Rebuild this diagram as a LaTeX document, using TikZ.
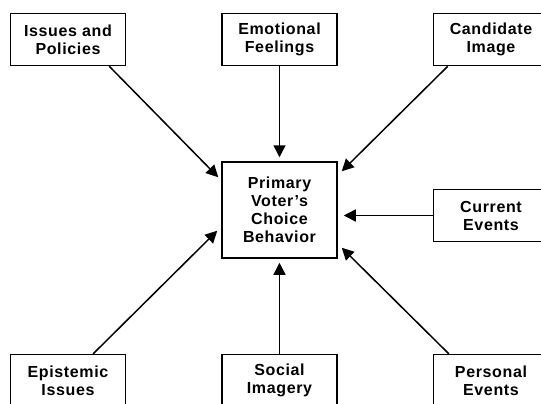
\documentclass[tikz,border=0pt]{standalone}
\usepackage{fontspec}
\setmainfont{Liberation Sans}[LetterSpace=4]
\usepackage{tikz}
\usetikzlibrary{arrows.meta,positioning}

\begin{document}
\begin{tikzpicture}[
  x=0.5pt, y=0.5pt,
  font=\fontsize{8}{9}\selectfont\bfseries,
  node distance=47.5pt,
  box/.style={rectangle, draw, line width=0.75pt, align=center,
              minimum width=57.5pt, minimum height=26pt, inner sep=1pt},
  arr/.style={-{Triangle[length=6pt,width=6pt]}, line width=0.75pt}
]
\clip (-279.5,210) rectangle (261.5,-193);
\node[box, minimum height=48pt] (prim) at (0,0) {Primary\\Voter's\\Choice\\Behavior};
\node[box, above=of prim] (emo) {Emotional\\Feelings};
\node[box, left=of emo] (iss) {Issues and\\Policies};
\node[box, right=of emo] (cand) {Candidate\\Image};
\node[box, right=of prim, yshift=-2.75pt] (curr) {Current\\Events};
\node[box, below=of prim] (soc) {Social\\Imagery};
\node[box, left=of soc] (epi) {Epistemic\\Issues};
\node[box, right=of soc] (pers) {Personal\\Events};
\draw[arr] ([xshift=-8.5pt]iss.south east) -- ([shift={(-1.5pt,-8pt)}]prim.north west);
\draw[arr] (emo) -- ([yshift=2pt]prim.north);
\draw[arr] ([xshift=7.5pt]cand.south west) -- ([shift={(2pt,-5pt)}]prim.north east);
\draw[arr] (curr.west) -- ([xshift=3pt]prim.east |- curr.west);
\draw[arr] ([xshift=-16.5pt]epi.north east) -- ([shift={(-2pt,14pt)}]prim.south west);
\draw[arr] (soc) -- ([yshift=-2pt]prim.south);
\draw[arr] ([xshift=8pt]pers.north west) -- ([shift={(2pt,5.5pt)}]prim.south east);
\end{tikzpicture}
\end{document}
